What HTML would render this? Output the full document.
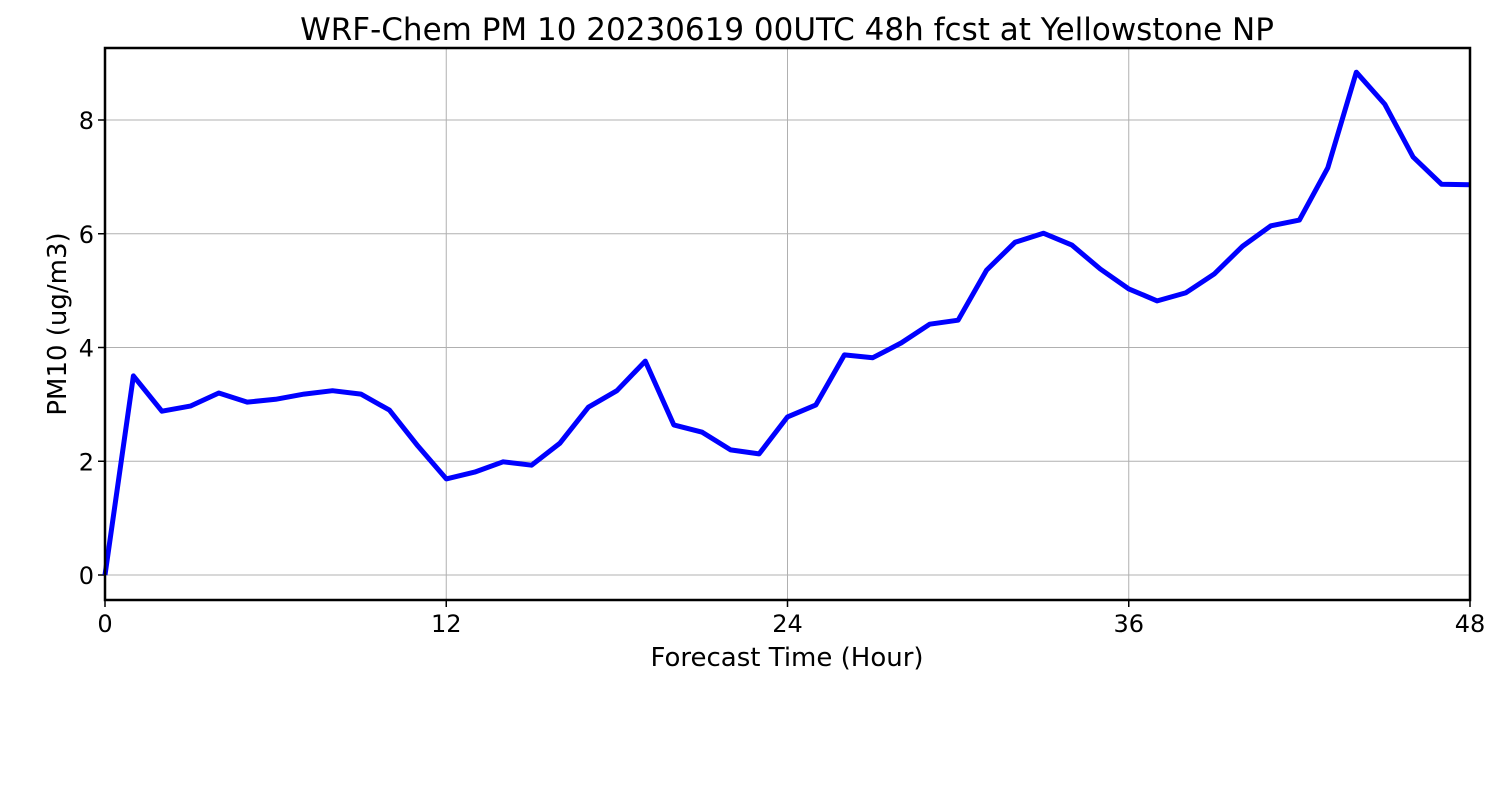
<!DOCTYPE html>
<html><head><meta charset="utf-8"><style>
html,body{margin:0;padding:0;background:#fff;}
svg{display:block;font-family:"DejaVu Sans","Liberation Sans",sans-serif;}
</style></head><body>
<svg id="chart" width="1500" height="800" viewBox="0 0 1500 800" xmlns="http://www.w3.org/2000/svg">
<rect width="1500" height="800" fill="#fff"/>
<text x="787" y="40" font-size="31" text-anchor="middle">WRF-Chem PM 10  20230619 00UTC 48h fcst at Yellowstone NP</text>
<g id="grid"></g>
<g id="ticks"></g>
<g id="series"></g>
<rect x="105" y="48" width="1365" height="552" fill="none" stroke="#000" stroke-width="2.5"/>
<text x="787" y="666" font-size="26" text-anchor="middle">Forecast Time (Hour)</text>
<text x="0" y="0" font-size="26" text-anchor="middle" transform="translate(66,324) rotate(-90)">PM10  (ug/m3)</text>
</svg>
<script>
const hours = [0,1,2,3,4,5,6,7,8,9,10,11,12,13,14,15,16,17,18,19,20,21,22,23,24,25,26,27,28,29,30,31,32,33,34,35,36,37,38,39,40,41,42,43,44,45,46,47,48];
const pm10 = [0,3.50,2.88,2.97,3.20,3.04,3.09,3.18,3.24,3.18,2.90,2.27,1.69,1.81,1.99,1.93,2.32,2.95,3.24,3.76,2.64,2.51,2.20,2.13,2.78,2.99,3.87,3.82,4.08,4.41,4.48,5.36,5.85,6.01,5.80,5.38,5.03,4.82,4.96,5.29,5.78,6.14,6.24,7.16,8.84,8.28,7.35,6.87,6.86];
const xTicks = [0,12,24,36,48];
const yTicks = [0,2,4,6,8];
const NS='http://www.w3.org/2000/svg';
const x = h => 105 + (h-0)/48*1365;
const y = v => 575 - v*56.875;
const grid=document.getElementById('grid'), ticks=document.getElementById('ticks'), series=document.getElementById('series');
function mk(t,a,p){const e=document.createElementNS(NS,t);for(const k in a)e.setAttribute(k,a[k]);p.appendChild(e);return e;}
xTicks.forEach(t=>{
  const g=mk('line',{x1:x(t),x2:x(t),y1:48,y2:600,stroke:'#b0b0b0','stroke-width':1},grid);
  
  
  const tk=mk('line',{x1:x(t),x2:x(t),y1:600,y2:607,stroke:'#000','stroke-width':1.5},ticks);
  
  
  const l=mk('text',{x:x(t),y:632,'font-size':24,'text-anchor':'middle'},ticks);
  l.textContent=t;
  
  
});
yTicks.forEach(t=>{
  const g=mk('line',{x1:105,x2:1470,y1:y(t),y2:y(t),stroke:'#b0b0b0','stroke-width':1},grid);
  
  
  const tk=mk('line',{x1:98,x2:105,y1:y(t),y2:y(t),stroke:'#000','stroke-width':1.5},ticks);
  
  
  const l=mk('text',{x:94,y:y(t)+9,'font-size':24,'text-anchor':'end'},ticks);
  l.textContent=t;
  
  
});
const pts=hours.map((h,i)=>x(h).toFixed(1)+','+y(pm10[i]).toFixed(1)).join(' ');
const line=mk('polyline',{points:pts,fill:'none',stroke:'#0000ff','stroke-width':5,'stroke-linejoin':'round'},series);


</script>
</body></html>
